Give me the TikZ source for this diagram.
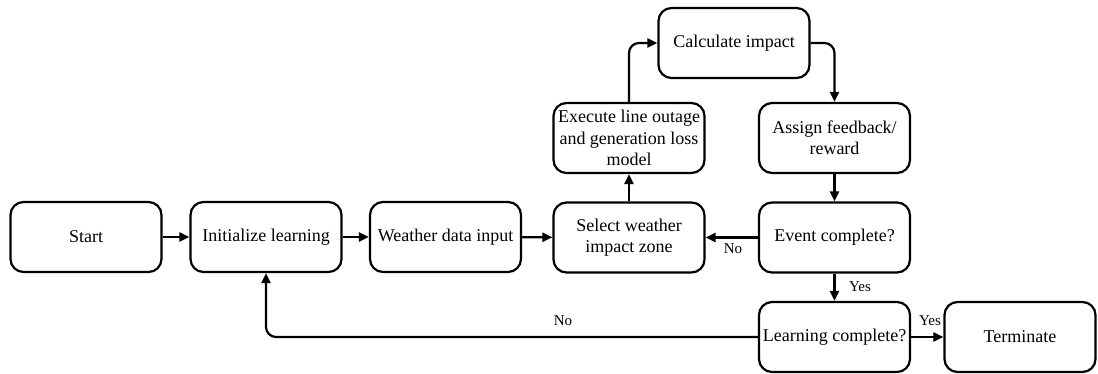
\documentclass[tikz,border=0pt]{standalone}
\usepackage{fontspec}
\setmainfont{Liberation Serif}
\newfontfamily\tnr{Liberation Serif}
\usetikzlibrary{arrows.meta}
\begin{document}
\begin{tikzpicture}[x=1pt,y=-1pt,
  box/.style={draw,line width=2.2pt,rounded corners=13pt,minimum width=151pt,minimum height=70pt,align=center,inner sep=2pt,font=\tnr\fontsize{18}{21.5}\selectfont},
  conn/.style={line width=2.2pt,-{Triangle[length=10pt,width=9pt]},rounded corners=10pt},
  lbl/.style={font=\tnr\fontsize{15}{17}\selectfont,inner sep=1pt}]
\useasboundingbox (0,0) rectangle (1098,374);
\node[box] (start) at (86,237) {Start};
\node[box] (init) at (266,237) {Initialize learning};
\node[box] (weather) at (445.5,237) {Weather data input};
\node[box] (select) at (629,237.5) {Select weather\\impact zone};
\node[box] (exec) at (629,138) {Execute line outage\\and generation loss\\model};
\node[box] (calc) at (734,43) {Calculate impact};
\node[box] (assign) at (834.5,138) {Assign feedback/\\reward};
\node[box] (event) at (834.5,237.5) {Event complete?};
\node[box] (learn) at (834.5,337) {Learning complete?};
\node[box] (term) at (1020,337) {Terminate};
\coordinate (c1) at (exec.north |- calc.west);
\coordinate (c2) at (assign.north |- calc.east);
\coordinate (c3) at (init.south |- learn.west);
\draw[conn] (start) -- (init);
\draw[conn] (init) -- (weather);
\draw[conn] (weather) -- (select);
\draw[conn] (select) -- (exec);
\draw[conn] (exec.north) -- (c1) -- (calc.west);
\draw[conn] (calc.east) -- (c2) -- (assign.north);
\draw[conn] (assign) -- (event);
\draw[conn] (event) -- (select);
\draw[conn] (event) -- (learn);
\draw[conn] (learn) -- (term);
\draw[conn] (learn.west) -- (c3) -- (init.south);
\node[lbl] (lno1) at (733,249) {No};
\node[lbl] (lyes1) at (860,287) {Yes};
\node[lbl] (lyes2) at (930,321) {Yes};
\node[lbl] (lno2) at (563,321) {No};
\end{tikzpicture}
\end{document}
